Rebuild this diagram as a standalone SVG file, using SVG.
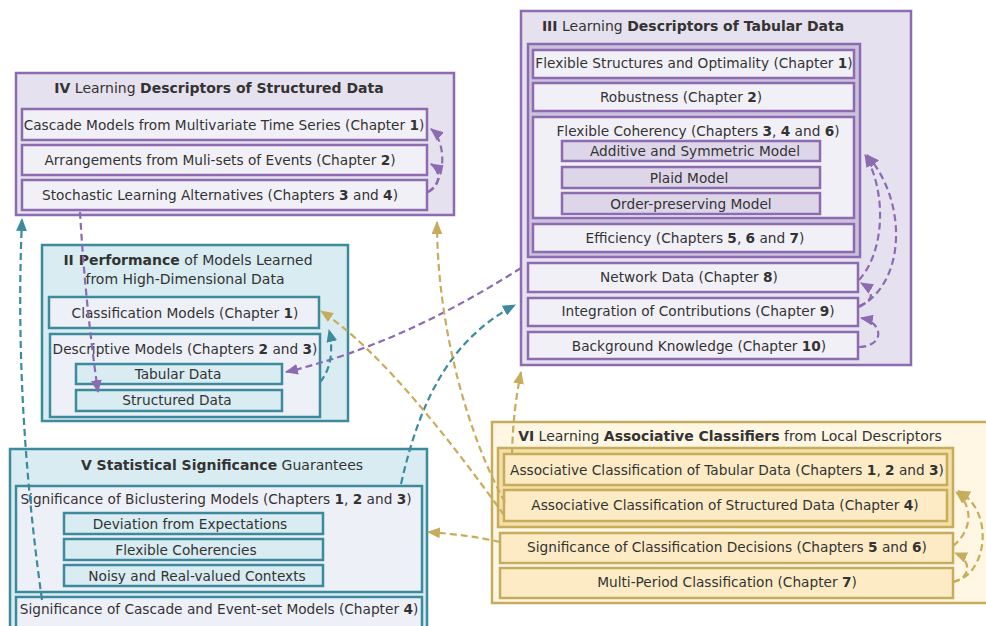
<svg xmlns="http://www.w3.org/2000/svg" width="986" height="626" viewBox="0 0 986 626">
<defs>
<style>
text{font-family:"DejaVu Sans","Liberation Sans",sans-serif;font-size:13.7px;fill:#333;text-anchor:middle}
.t{font-size:14px}
.b{font-weight:bold}
.po{fill:#e6e1ee;stroke:#8c6bb1;stroke-width:2.5}
.pi{fill:#f2f0f7;stroke:#8c6bb1;stroke-width:2.5}
.ps{fill:#ddd6e9;stroke:#8c6bb1;stroke-width:2.5}
.pc{fill:#cdc2de;stroke:#8c6bb1;stroke-width:2.5}
.to{fill:#d8ecf2;stroke:#3c8a9c;stroke-width:2.5}
.ti{fill:#eef0f8;stroke:#3c8a9c;stroke-width:2.5}
.ts{fill:#d8ecf2;stroke:#3c8a9c;stroke-width:2.5}
.go{fill:#fff7e4;stroke:#c8ac5e;stroke-width:2.5}
.gi{fill:#fcebc4;stroke:#c8ac5e;stroke-width:2.5}
.gc{fill:#f4dfa6;stroke:#c8ac5e;stroke-width:2.5}
.c{fill:none;stroke-width:2.2;stroke-dasharray:7 4}
.cp{stroke:#8c6bb1;marker-end:url(#ap)}
.ct{stroke:#3c8a9c;marker-end:url(#at)}
.cg{stroke:#c8ac5e;marker-end:url(#ag)}
</style>
<marker id="ap" viewBox="0 0 12 10" refX="11" refY="5" markerWidth="13" markerHeight="11" markerUnits="userSpaceOnUse" orient="auto"><path d="M0,0 L12,5 L0,10 Z" fill="#8c6bb1"/></marker>
<marker id="at" viewBox="0 0 12 10" refX="11" refY="5" markerWidth="13" markerHeight="11" markerUnits="userSpaceOnUse" orient="auto"><path d="M0,0 L12,5 L0,10 Z" fill="#3c8a9c"/></marker>
<marker id="ag" viewBox="0 0 12 10" refX="11" refY="5" markerWidth="13" markerHeight="11" markerUnits="userSpaceOnUse" orient="auto"><path d="M0,0 L12,5 L0,10 Z" fill="#c8ac5e"/></marker>
</defs>
<rect width="986" height="626" fill="#fff"/>

<g id="group-IV">
<rect class="po" x="16" y="73" width="438" height="142"/>
<text class="t" x="219" y="93"><tspan class="b">IV</tspan> Learning <tspan class="b">Descriptors of Structured Data</tspan></text>
<g id="iv-cascade"><rect class="pi" x="22" y="109" width="405" height="31"/><text x="224" y="130">Cascade Models from Multivariate Time Series (Chapter <tspan class="b">1</tspan>)</text></g>
<g id="iv-arrangements"><rect class="pi" x="22" y="145" width="405" height="30"/><text x="220" y="165">Arrangements from Muli-sets of Events (Chapter <tspan class="b">2</tspan>)</text></g>
<g id="iv-stochastic"><rect class="pi" x="22" y="180" width="405" height="30"/><text x="220" y="200">Stochastic Learning Alternatives (Chapters <tspan class="b">3</tspan> and <tspan class="b">4</tspan>)</text></g>
</g>

<g id="group-II">
<rect class="to" x="42" y="245" width="306" height="176"/>
<text class="t" x="188" y="265"><tspan class="b">II Performance</tspan> of Models Learned</text>
<text class="t" x="185" y="284">from High-Dimensional Data</text>
<g id="ii-classification"><rect class="ti" x="49" y="297" width="270" height="31"/><text x="185" y="318">Classification Models (Chapter <tspan class="b">1</tspan>)</text></g>
<g id="ii-descriptive"><rect class="ti" x="50" y="334" width="270" height="83"/><text x="185" y="354">Descriptive Models (Chapters <tspan class="b">2</tspan> and <tspan class="b">3</tspan>)</text>
<g id="ii-tabular"><rect class="ts" x="76" y="364" width="206" height="20"/><text x="178" y="379">Tabular Data</text></g>
<g id="ii-structured"><rect class="ts" x="76" y="390" width="206" height="21"/><text x="177" y="405">Structured Data</text></g>
</g>
</g>

<g id="group-V">
<rect class="to" x="10" y="449" width="417" height="190"/>
<text class="t" x="222" y="470"><tspan class="b">V Statistical Significance</tspan> Guarantees</text>
<g id="v-biclustering"><rect class="ti" x="16" y="486" width="406" height="106"/><text x="216" y="504">Significance of Biclustering Models (Chapters <tspan class="b">1</tspan>, <tspan class="b">2</tspan> and <tspan class="b">3</tspan>)</text>
<g id="v-deviation"><rect class="ts" x="64" y="513" width="259" height="21"/><text x="190" y="529">Deviation from Expectations</text></g>
<g id="v-flexible"><rect class="ts" x="64" y="539" width="259" height="21"/><text x="186" y="555">Flexible Coherencies</text></g>
<g id="v-noisy"><rect class="ts" x="64" y="565" width="259" height="21"/><text x="197" y="581">Noisy and Real-valued Contexts</text></g>
</g>
<g id="v-cascade"><rect class="ti" x="16" y="597" width="406" height="40"/><text x="219" y="614">Significance of Cascade and Event-set Models (Chapter <tspan class="b">4</tspan>)</text></g>
</g>

<g id="group-III">
<rect class="po" x="521" y="11" width="390" height="354"/>
<text class="t" x="693" y="31"><tspan class="b">III</tspan> Learning <tspan class="b">Descriptors of Tabular Data</tspan></text>
<rect class="pc" x="528" y="44" width="332" height="213"/>
<g id="iii-flexible-structures"><rect class="pi" x="533" y="50" width="321" height="28"/><text x="694" y="68">Flexible Structures and Optimality (Chapter <tspan class="b">1</tspan>)</text></g>
<g id="iii-robustness"><rect class="pi" x="533" y="83" width="321" height="28"/><text x="681" y="102">Robustness (Chapter <tspan class="b">2</tspan>)</text></g>
<g id="iii-flexible-coherency"><rect class="pi" x="533" y="117" width="321" height="101"/><text x="698" y="136">Flexible Coherency (Chapters <tspan class="b">3</tspan>, <tspan class="b">4</tspan> and <tspan class="b">6</tspan>)</text>
<g id="iii-additive"><rect class="ps" x="562" y="141" width="258" height="20"/><text x="695" y="156">Additive and Symmetric Model</text></g>
<g id="iii-plaid"><rect class="ps" x="562" y="167" width="258" height="21"/><text x="689" y="183">Plaid Model</text></g>
<g id="iii-order"><rect class="ps" x="562" y="193" width="258" height="21"/><text x="691" y="209">Order-preserving Model</text></g>
</g>
<g id="iii-efficiency"><rect class="pi" x="533" y="224" width="321" height="28"/><text x="695" y="243">Efficiency (Chapters <tspan class="b">5</tspan>, <tspan class="b">6</tspan> and <tspan class="b">7</tspan>)</text></g>
<g id="iii-network"><rect class="pi" x="528" y="263" width="330" height="29"/><text x="689" y="282">Network Data (Chapter <tspan class="b">8</tspan>)</text></g>
<g id="iii-integration"><rect class="pi" x="528" y="298" width="330" height="28"/><text x="698" y="316">Integration of Contributions (Chapter <tspan class="b">9</tspan>)</text></g>
<g id="iii-background"><rect class="pi" x="528" y="332" width="330" height="27"/><text x="699" y="351">Background Knowledge (Chapter <tspan class="b">10</tspan>)</text></g>
</g>

<g id="group-VI">
<rect class="go" x="492" y="422" width="510" height="181"/>
<text class="t" x="730" y="441"><tspan class="b">VI</tspan> Learning <tspan class="b">Associative Classifiers</tspan> from Local Descriptors</text>
<rect class="gc" x="498" y="448" width="455" height="79"/>
<g id="vi-assoc-tabular"><rect class="gi" x="504" y="454" width="443" height="31"/><text x="727" y="475">Associative Classification of Tabular Data (Chapters <tspan class="b">1</tspan>, <tspan class="b">2</tspan> and <tspan class="b">3</tspan>)</text></g>
<g id="vi-assoc-structured"><rect class="gi" x="504" y="490" width="443" height="31"/><text x="725" y="510">Associative Classification of Structured Data (Chapter <tspan class="b">4</tspan>)</text></g>
<g id="vi-significance"><rect class="gi" x="500" y="533" width="453" height="30"/><text x="727" y="552">Significance of Classification Decisions (Chapters <tspan class="b">5</tspan> and <tspan class="b">6</tspan>)</text></g>
<g id="vi-multiperiod"><rect class="gi" x="500" y="568" width="453" height="30"/><text x="727" y="587">Multi-Period Classification (Chapter <tspan class="b">7</tspan>)</text></g>
</g>

<g id="connectors">
<path class="c cp" d="M80,212 Q85,300 98,392"/>
<path class="c cp" d="M428,192 C446,182 447,142 431,129"/>
<path class="c cp" d="M428,192 C441,186 441,170 431,164"/>
<path class="c cp" d="M521,268 Q400,345 286,372"/>
<path class="c cp" d="M859,280 C886,250 886,190 865,155"/>
<path class="c cp" d="M859,307 C907,282 907,200 867,155"/>
<path class="c cp" d="M859,306 C876,300 873,290 861,283"/>
<path class="c cp" d="M859,347 C886,346 883,322 861,318"/>
<path class="c ct" d="M42,600 Q14,400 22,219"/>
<path class="c ct" d="M401,484 C420,400 450,340 515,305"/>
<path class="c ct" d="M320,382 C334,366 332,342 329,330"/>
<path class="c cg" d="M512,455 Q513,410 521,372"/>
<path class="c cg" d="M504,515 C450,440 380,350 321,311"/>
<path class="c cg" d="M505,502 C470,440 437,330 437,222"/>
<path class="c cg" d="M500,542 Q470,535 428,532"/>
<path class="c cg" d="M953,546 C973,530 973,505 956,492"/>
<path class="c cg" d="M953,582 C988,575 995,510 958,491"/>
<path class="c cg" d="M953,582 C971,578 972,560 955,553"/>
</g>
</svg>
